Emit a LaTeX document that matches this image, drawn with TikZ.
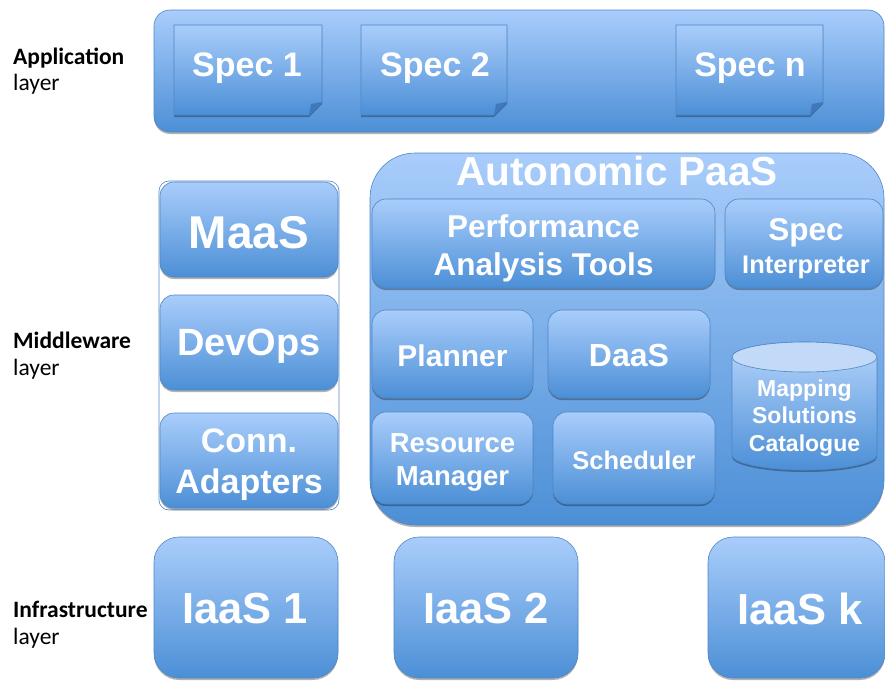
\documentclass[tikz,border=0pt]{standalone}
\usepackage{fontspec}
\usepackage{graphicx}
\setmainfont{Liberation Sans}
\newfontfamily\lblfont{Carlito}
\usetikzlibrary{shadows}

\definecolor{btop}{HTML}{A9CDFB}
\definecolor{bbot}{HTML}{4C8FD6}
\definecolor{bline}{HTML}{4F86C6}
\definecolor{foldc}{HTML}{3E78BD}
\definecolor{cyltop}{HTML}{C2DAF7}

\newcommand\fs[1]{\fontsize{#1}{#1}\selectfont}

\tikzset{
  x=1pt, y=-1pt,
  shadebox/.style={draw=bline, line width=0.6pt, top color=btop, bottom color=bbot,
    drop shadow={shadow xshift=0pt, shadow yshift=-2pt, opacity=0.3, fill=black}},
  block/.style={shadebox, rounded corners=14pt, text=white, align=center, inner sep=0pt},
  btxt/.style={text=white, align=center, inner sep=0pt},
  layerlbl/.style={anchor=base west, inner sep=0pt, font=\lblfont\fs{23.5}},
}

\begin{document}
\begin{tikzpicture}
\useasboundingbox (0,0) rectangle (885,680);

% ---------- layer labels ----------
\node[layerlbl] (lapp)  at (13,64)  {\bfseries Application};
\node[layerlbl] (lapp2) at (13,90)  {layer};
\node[layerlbl] (lmid)  at (13,348) {\bfseries Middleware};
\node[layerlbl] (lmid2) at (13,375) {layer};
\node[layerlbl] (linf)  at (13,617) {\bfseries Infrastructure};
\node[layerlbl] (linf2) at (13,644) {layer};

% ---------- application layer ----------
\node[block, rounded corners=16pt, minimum width=730pt, minimum height=122pt] (app) at (519,71) {};

\shade[shadebox] (174,25) -- (322,25) -- (322,102) -- (309,115) -- (174,115) -- cycle;
\fill[foldc] (322,102) -- (309,115) -- (311,104) -- cycle;
\node[btxt, font=\bfseries\fs{34}] (spec1) at (247,68) {Spec 1};

\shade[shadebox] (361,25) -- (507,25) -- (507,102) -- (494,115) -- (361,115) -- cycle;
\fill[foldc] (507,102) -- (494,115) -- (496,104) -- cycle;
\node[btxt, font=\bfseries\fs{34}] (spec2) at (435,68) {Spec 2};

\shade[shadebox] (676,25) -- (823,25) -- (823,102) -- (810,115) -- (676,115) -- cycle;
\fill[foldc] (823,102) -- (810,115) -- (812,104) -- cycle;
\node[btxt, font=\bfseries\fs{34}] (specn) at (750,68) {Spec n};

% ---------- middleware layer: left column ----------
\node[draw=bline, line width=0.6pt, fill=white, rounded corners=10pt,
      minimum width=180pt, minimum height=329pt] (mwcol) at (249,345.5) {};
\node[block, minimum width=178pt, minimum height=95pt] (maas) at (249,229.5) {};
\node[btxt, font=\bfseries\fs{46}] (maast) at (249,233) {MaaS};
\node[block, minimum width=178pt, minimum height=95pt] (devops) at (249,342.5) {};
\node[btxt, font=\bfseries\fs{38}] (devopst) at (249,346) {DevOps};
\node[block, minimum width=178pt, minimum height=95pt] (conn) at (249,460.5) {};
\node[btxt, font=\bfseries\fontsize{34}{41}\selectfont] (connt) at (249,465) {Conn.\\Adapters};

% ---------- middleware layer: autonomic PaaS ----------
\node[block, rounded corners=45pt, minimum width=514pt, minimum height=372pt] (paas) at (627,339) {};
\node[btxt, font=\bfseries\fs{40.5}] (paastitle) at (617,171) {Autonomic PaaS};

\node[block, minimum width=343pt, minimum height=89pt] (perf) at (543.5,243.5) {};
\node[btxt, font=\bfseries\fontsize{31.5}{38}\selectfont] (perft) at (543.5,248) {Performance\\Analysis Tools};
\node[block, minimum width=158pt, minimum height=89pt] (specint) at (804,243.5) {};
\node[btxt, font=\bfseries\fs{31.5}] (specword) at (806,233) {Spec};
\node[btxt, font=\bfseries\fs{25.5}] (interp) at (806,267) {Interpreter};

\node[block, minimum width=161pt, minimum height=88pt] (planner) at (452.5,354) {};
\node[btxt, font=\bfseries\fs{30}] (plannert) at (452.5,356) {Planner};
\node[block, minimum width=162pt, minimum height=88pt] (daas) at (629,354) {};
\node[btxt, font=\bfseries\fs{32}] (daast) at (629,355) {DaaS};
\node[block, minimum width=161pt, minimum height=92pt] (resmgr) at (452.5,458) {};
\node[btxt, font=\bfseries\fontsize{27.5}{33}\selectfont] (resmgrt) at (452.5,462) {Resource\\Manager};
\node[block, minimum width=162pt, minimum height=92pt] (sched) at (634,458) {};
\node[btxt, font=\bfseries\fs{25.5}] (schedt) at (634,460) {Scheduler};

% catalogue cylinder
\shade[draw=bline, line width=0.6pt, top color=btop!85!white, bottom color=bbot,
  drop shadow={shadow xshift=0pt, shadow yshift=-2pt, opacity=0.3, fill=black}]
  (732,357) -- (732,455) arc[start angle=180, end angle=360, x radius=72.5pt, y radius=15pt]
  -- (877,357) arc[start angle=0, end angle=180, x radius=72.5pt, y radius=15pt] -- cycle;
\draw[bline, line width=0.6pt, fill=cyltop] (804.5,357) ellipse[x radius=72.5pt, y radius=15pt];
\node[btxt, font=\bfseries\fontsize{23}{27.5}\selectfont] (catalogue) at (804.5,418) {Mapping\\Solutions\\Catalogue};

% ---------- infrastructure layer ----------
\node[block, rounded corners=25pt, minimum width=184pt, minimum height=141pt] (iaas1) at (246,607.5) {};
\node[btxt, font=\bfseries\fs{43.5}] (iaas1t) at (245,609) {IaaS 1};
\node[block, rounded corners=25pt, minimum width=184pt, minimum height=141pt] (iaas2) at (486,607.5) {};
\node[btxt, font=\bfseries\fs{43.5}] (iaas2t) at (486,609) {IaaS 2};
\node[block, rounded corners=25pt, minimum width=177pt, minimum height=141pt] (iaask) at (796.5,607.5) {};
\node[btxt, font=\bfseries\fs{43.5}] (iaaskt) at (800,609) {IaaS k};
\end{tikzpicture}
\end{document}
